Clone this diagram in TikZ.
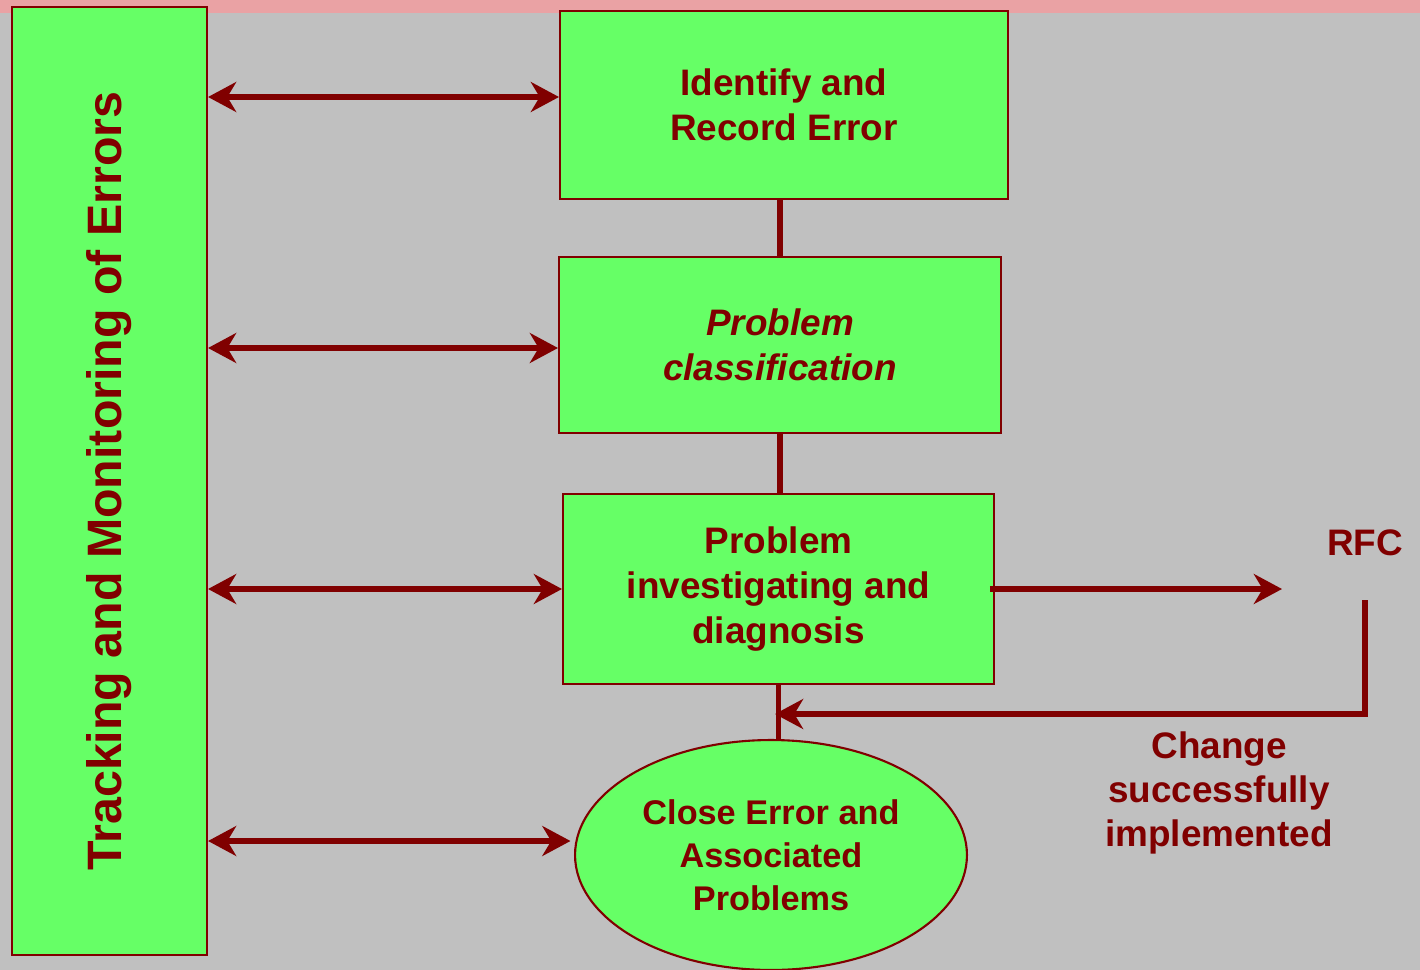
\documentclass[tikz,border=0pt]{standalone}
\usepackage{fontspec}
\setmainfont{Liberation Sans}
\usetikzlibrary{arrows.meta,shapes.geometric}
\definecolor{errred}{HTML}{800000}
\definecolor{boxgreen}{HTML}{66FF66}
\definecolor{slide}{HTML}{C0C0C0}
\definecolor{band}{RGB}{234,162,164}
\tikzset{
  stage/.style={draw=errred, line width=1.2pt, fill=boxgreen, text=errred,
    font=\fontsize{21}{25.5}\selectfont\bfseries, align=center, inner sep=0pt},
  note/.style={text=errred, font=\fontsize{21}{25}\selectfont\bfseries, align=center},
  link/.style={errred, line width=3.4pt},
  tip/.tip={Stealth[length=16pt,width=17pt,inset=5pt]},
}
\begin{document}
\begin{tikzpicture}[x=0.02cm,y=-0.02cm]
  \useasboundingbox (0,0) rectangle (1420,970);
  % background and top band
  \fill[slide] (0,0) rectangle (1420,970);
  \fill[band] (0,0) rectangle (1420,13);

  % left column
  \node[stage, minimum width=3.9cm, minimum height=18.96cm] (track) at (109.5,481) {};
  \node[note, rotate=90, font=\fontsize{27.5}{30}\selectfont\bfseries] (tracktxt) at (track.center)
    {Tracking and Monitoring of Errors};

  % process steps
  \node[stage, minimum width=8.96cm, minimum height=3.76cm] (identify) at (784,105)
    {Identify and\\Record Error};
  \node[stage, minimum width=8.84cm, minimum height=3.52cm] (classify) at (780,345)
    {\itshape Problem\\\itshape classification};
  \node[stage, minimum width=8.62cm, minimum height=3.8cm] (diagnose) at (778.5,589)
    {Problem\\investigating and\\diagnosis};
  \node[stage, ellipse, minimum width=7.84cm, minimum height=4.6cm,
    font=\fontsize{19.5}{24.5}\selectfont\bfseries] (closeerr) at (771,855)
    {Close Error and\\Associated\\Problems};

  % change request side
  \node[note] (rfc) at (1365,543) {RFC};
  \node[note] (done) at (1219,793) {Change\\successfully\\implemented};
  \coordinate (rfcend) at (1282,589);
  \coordinate (back) at (775,714);

  % links between steps
  \draw[link] (classify.north |- identify.south) -- (classify.north);
  \draw[link] (classify.south) -- (classify.south |- diagnose.north);
  \draw[link] (diagnose.south) -- (diagnose.south |- closeerr.north);

  % tracking arrows
  \draw[link, tip-tip] (track.east |- 0,97) -- (identify.west |- 0,97);
  \draw[link, tip-tip] (track.east |- 0,348) -- (classify.west |- 0,348);
  \draw[link, tip-tip] (track.east |- diagnose.west) -- (diagnose.west);
  \draw[link, tip-tip] (track.east |- 0,841) -- ([xshift=-2pt]closeerr.west |- 0,841);

  % RFC and return loop
  \draw[link, -tip] ([xshift=-3pt]diagnose.east) -- (rfcend);
  \draw[link, -tip] (rfc.south) ++(0,38) |- (back);
\end{tikzpicture}
\end{document}
